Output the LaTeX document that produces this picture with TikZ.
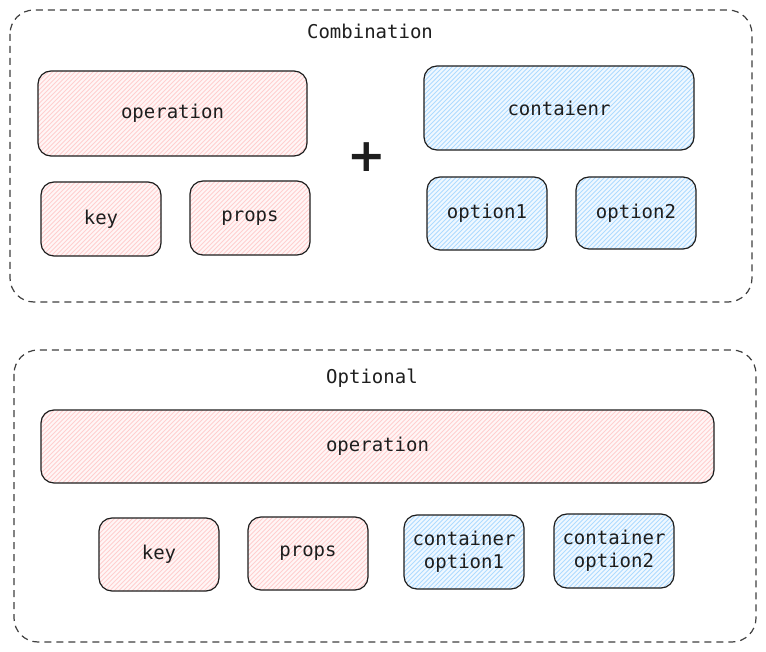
\documentclass[tikz,border=0pt]{standalone}
\usepackage{fontspec}
\setmonofont{DejaVu Sans Mono}
\newfontfamily\plusfont{DejaVu Sans}
\definecolor{pinkfill}{HTML}{FFF6F6}
\definecolor{pinkhatch}{HTML}{FFCFCF}
\definecolor{bluefill}{HTML}{F0F8FF}
\definecolor{bluehatch}{HTML}{AEDBFF}
\definecolor{ink}{HTML}{1E1E1E}
\begin{document}
\begin{tikzpicture}[x=1pt,y=-1pt,
  group/.style={draw=ink!85, line width=1.2pt, dash pattern=on 7pt off 5pt, rounded corners=24pt},
  grouptitle/.style={font=\ttfamily\fontsize{19}{21}\selectfont, text=ink},
  box/.style={draw=ink, line width=1.2pt, rounded corners=13pt, font=\ttfamily\fontsize{19}{22.5}\selectfont, text=ink, align=center, inner sep=0pt},
  hatch/.style={path picture={
    \foreach \i in {-400,-395.5,...,400}
      \draw[#1, line width=0.75pt] ([xshift=\i pt-60pt,yshift=-60pt]path picture bounding box.center) -- ++(120pt,120pt);
  }},
  pinkbox/.style={box, fill=pinkfill, hatch=pinkhatch},
  bluebox/.style={box, fill=bluefill, hatch=bluehatch},
  small/.style={minimum width=120pt, minimum height=74pt},
]
\useasboundingbox (0,0) rectangle (766,652);
\fill[white] (0,0) rectangle (766,652);

% group 1
\draw[group] (10,10) rectangle (752,302);
\node[grouptitle] (t1) at (370,31) {Combination};
\node[pinkbox, minimum width=269pt, minimum height=85pt] (op1) at (172.5,113.5) {operation};
\node[pinkbox, small] (key1) at (101,219) {key};
\node[pinkbox, small] (props1) at (250,218) {props};
\node[font=\plusfont\bfseries\fontsize{46}{46}\selectfont, text=ink, inner sep=0pt] (plus) at (366.5,157.5) {+};
\node[bluebox, minimum width=270pt, minimum height=84pt] (cont1) at (559,108) {contaienr};
\node[bluebox, small, minimum height=73pt] (opt11) at (487,213.5) {option1};
\node[bluebox, small, minimum height=72pt] (opt21) at (636,213) {option2};

% group 2
\draw[group] (14,350) rectangle (756,642);
\node[grouptitle] (t2) at (372,378) {Optional};
\node[pinkbox, minimum width=673pt, minimum height=73pt] (op2) at (377.5,446.5) {operation};
\node[pinkbox, small, minimum height=73pt] (key2) at (159,554.5) {key};
\node[pinkbox, small, minimum height=73pt] (props2) at (308,553.5) {props};
\node[bluebox, small] (copt1) at (464,552) {container\\option1};
\node[bluebox, small] (copt2) at (614,551) {container\\option2};
\end{tikzpicture}
\end{document}
